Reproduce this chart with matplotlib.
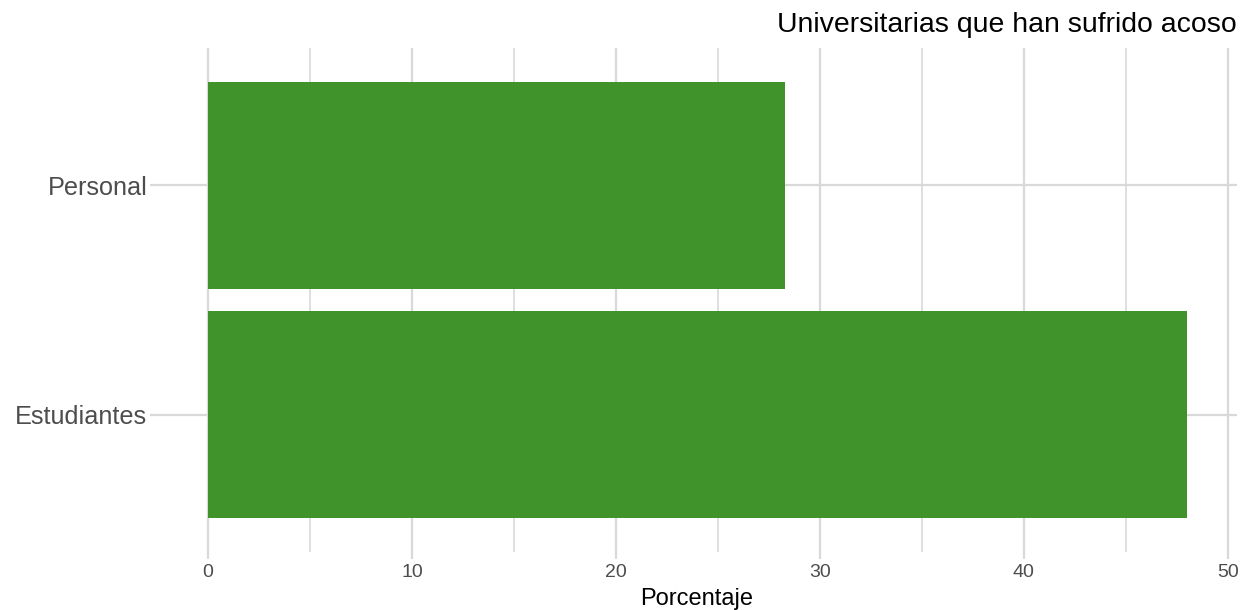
import numpy as np
import matplotlib.pyplot as plt
from matplotlib.ticker import MultipleLocator

plt.rcParams['font.family'] = ['Liberation Sans', 'DejaVu Sans']

categories = ['Estudiantes', 'Personal']
values = [48.0, 28.3]
title = 'Universitarias que han sufrido acoso'
xlabel = 'Porcentaje'

green = '#40922A'
grid_col = '#D9D9D9'

fig = plt.figure(figsize=(12.41, 6.10), dpi=100)
ax = fig.add_axes([0.1265, 0.0951, 0.8703, 0.8262])

y = np.arange(len(categories))
ax.barh(y, values, height=0.9, color=green, zorder=3)

ax.set_xlim(-2.5, 50.45)
ax.set_ylim(-0.6, len(categories) - 0.4)
ax.set_yticks(y)
ax.set_yticklabels(categories)
ax.xaxis.set_major_locator(MultipleLocator(10))
ax.xaxis.set_minor_locator(MultipleLocator(5))

ax.grid(True, which='major', axis='both', color=grid_col, lw=1.6, zorder=0)
ax.grid(True, which='minor', axis='x', color=grid_col, lw=1.2, zorder=0)

for s in ax.spines.values():
    s.set_visible(False)

ax.tick_params(axis='both', which='major', length=5, width=1.6, color=grid_col,
               labelcolor='#4D4D4D')
ax.tick_params(axis='x', which='major', labelsize=14, pad=4)
ax.tick_params(axis='y', which='major', labelsize=18.2, pad=2)
ax.tick_params(axis='x', which='minor', length=0)

ax.set_xlabel(xlabel, fontsize=17, color='black', labelpad=5)
fig.text(0.9968, 0.948, title, ha='right', va='baseline', fontsize=20.4, color='black')

fig.savefig('out.png', dpi=100)
